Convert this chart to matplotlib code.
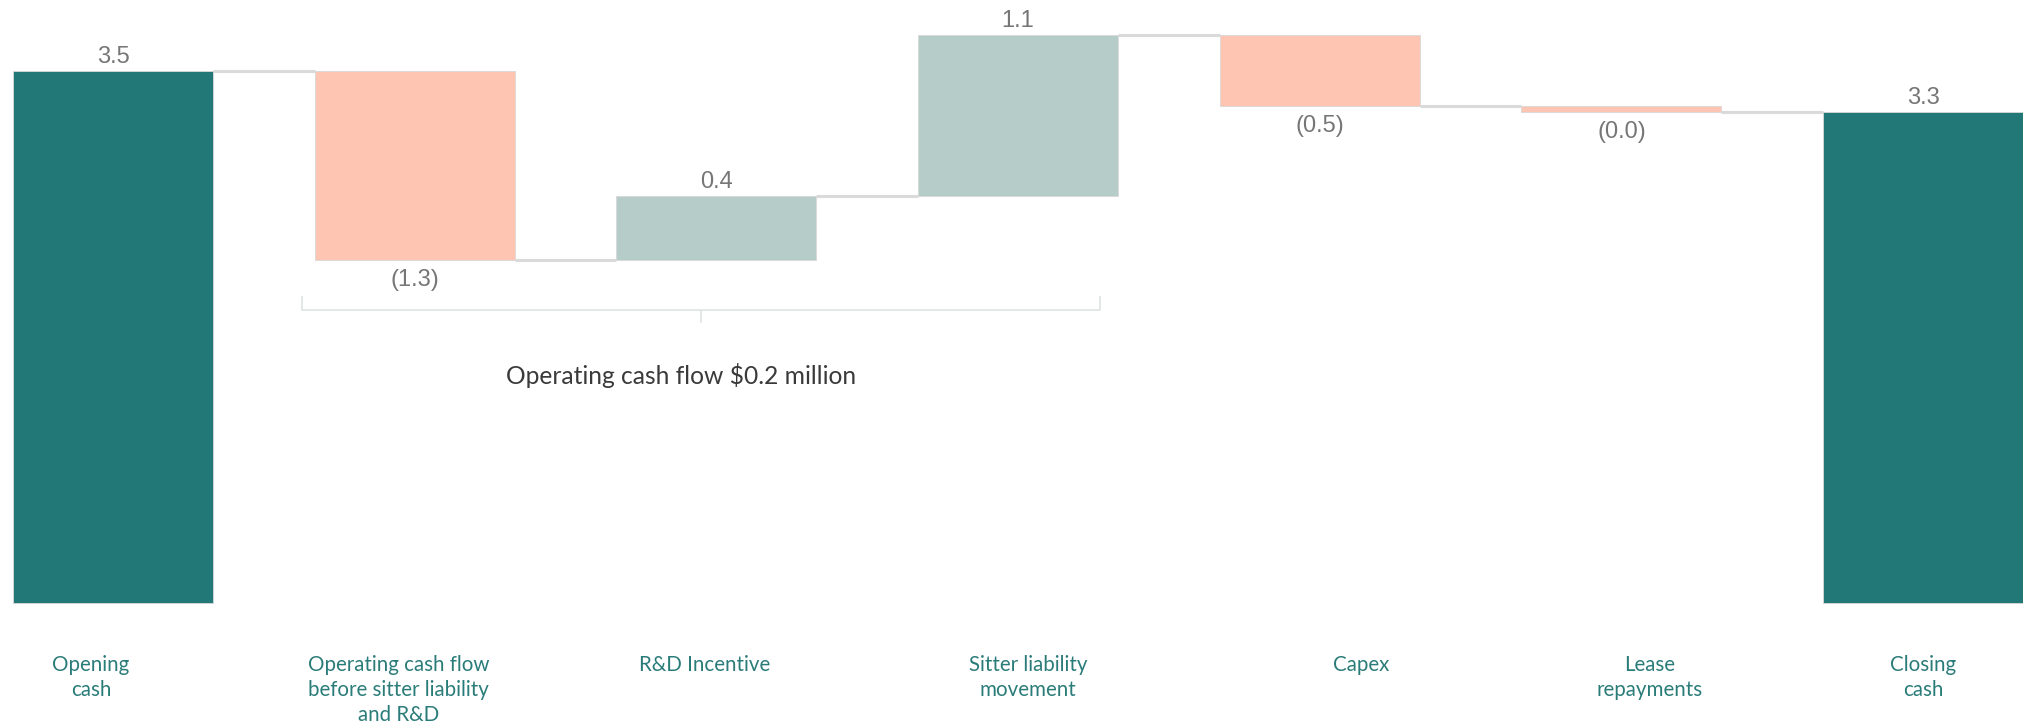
import numpy as np
import matplotlib
matplotlib.use('Agg')
import matplotlib.pyplot as plt

# Cash movement, $ million
categories = ['Opening\ncash', 'Operating cash flow\nbefore sitter liability\nand R&D',
              'R&D Incentive', 'Sitter liability\nmovement', 'Capex',
              'Lease\nrepayments', 'Closing\ncash']
values = [3.54, -1.26, 0.43, 1.07, -0.47, -0.04, 3.27]
is_total = [True, False, False, False, False, False, True]
bracket_text = r'Operating cash flow \$0.2 million'

# category labels sit in their own row, slightly off the bar centres
label_shift = [-0.073, -0.053, -0.04, 0.033, 0.136, 0.093, 0.0]

teal = '#217876'
neg_color = '#fdc5b2'
pos_color = '#b6ccc8'
connector_color = '#dadada'
value_color = '#767676'
label_color = '#2a7c79'

fig = plt.figure(figsize=(20.23, 7.26), dpi=100)
ax = fig.add_axes([0, 0, 1, 1])
ax.set_xlim(-0.3745, 6.331)
ax.set_ylim(-0.8185, 4.0125)
ax.axis('off')

width = 0.663
x = np.arange(len(values))

# Work out the floating bars
bottoms = []
heights = []
levels = []
running = 0.0
for v, total in zip(values, is_total):
    if total:
        bottoms.append(0.0)
        heights.append(v)
        running = v
    else:
        bottoms.append(min(running, running + v))
        heights.append(abs(v))
        running += v
    levels.append(running)

colors = [teal if t else (pos_color if v >= 0 else neg_color) for v, t in zip(values, is_total)]
ax.bar(x, heights, bottom=bottoms, width=width, color=colors,
       edgecolor='#d8d8d8', linewidth=0.6, zorder=2)

# Connector lines between bars
for i in range(len(values) - 1):
    ax.plot([x[i] + width / 2, x[i + 1] - width / 2], [levels[i], levels[i]],
            color=connector_color, lw=2.2, solid_capstyle='butt', zorder=1)

# Value labels
for i, (v, b, h) in enumerate(zip(values, bottoms, heights)):
    if v >= 0:
        txt = f'{v:.1f}'
        ax.annotate(txt, (x[i], b + h), xytext=(0, 10), textcoords='offset points',
                    ha='center', va='center', fontsize=17, color=value_color,
                    family='Liberation Sans')
    else:
        txt = f'({abs(v):.1f})'
        ax.annotate(txt, (x[i], b), xytext=(0, -14.5), textcoords='offset points',
                    ha='center', va='center', fontsize=17, color=value_color,
                    family='Liberation Sans')

# Category labels under the chart
for i, lab in enumerate(categories):
    ax.text(x[i] + label_shift[i], -0.346, lab, ha='center', va='top', fontsize=14.8,
            color=label_color, family='Lato', linespacing=1.32)

# Bracket grouping the operating items
left, right = 1 - 0.375, 3 + 0.27
mid = (left + right) / 2
y_br, y_hook, y_tip = 1.95, 2.036, 1.87
ax.plot([left, left, right, right], [y_hook, y_br, y_br, y_hook],
        color='#e1e5e5', lw=1.3, zorder=1)
ax.plot([mid, mid], [y_br, y_tip], color='#e1e5e5', lw=1.3, zorder=1)
ax.text(mid - 0.065, 1.517, bracket_text, ha='center', va='center',
        fontsize=17.7, color='#3a3a3a', family='Lato')

fig.savefig('out.png', dpi=100)
